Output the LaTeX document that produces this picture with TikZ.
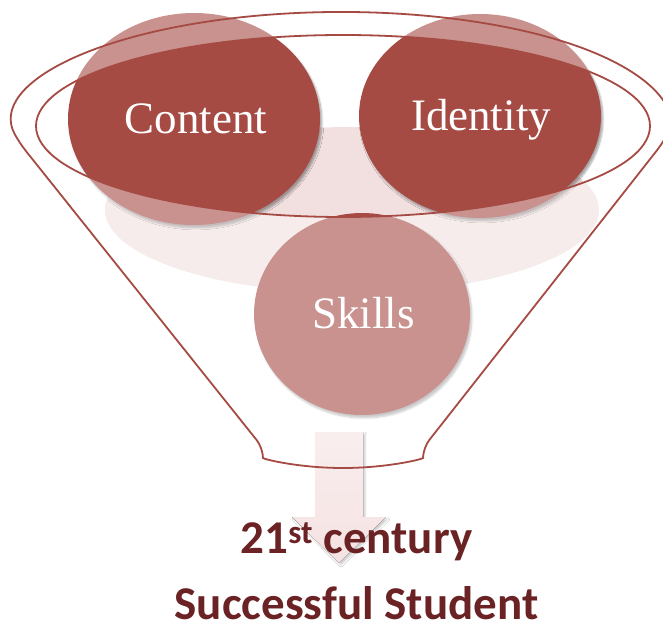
\documentclass[tikz,border=0pt]{standalone}
\usepackage{fontspec}
\setmainfont{Liberation Serif}
\newfontfamily\captionfont{Carlito}
\usetikzlibrary{shapes.geometric,shadows.blur}
\definecolor{funnelred}{HTML}{A64A44}
\definecolor{palepink}{HTML}{F2E0E0}
\definecolor{arrowpink}{HTML}{F5E2E2}
\definecolor{arrowtop}{HTML}{F9EEEE}
\definecolor{textred}{HTML}{6A2224}

\begin{document}
\begin{tikzpicture}[x=1pt, y=-1pt,
    blob/.style={ellipse, fill=funnelred, inner sep=0pt,
      blur shadow={shadow xshift=2pt, shadow yshift=-3pt, shadow opacity=35, shadow blur steps=6}},
    word/.style={anchor=base, inner sep=0pt, text=white, font=\fontsize{45}{54}\selectfont},
    rim/.style={draw=funnelred, line width=1.8pt},
    caption/.style={anchor=base, inner sep=0pt, text=textred, font=\captionfont\bfseries\fontsize{47}{56}\selectfont}]
    \useasboundingbox (0,0) rectangle (663,628);

    % bowl and the three ingredients
    \node[ellipse, fill=palepink, inner sep=0pt, minimum width=494pt, minimum height=166pt] (bowl) at (352,210) {};
    \node[blob, minimum width=252pt, minimum height=212pt] (content) at (194,119) {};
    \node[blob, minimum width=242pt, minimum height=204pt] (identity) at (480,116) {};
    \node[blob, minimum width=216pt, minimum height=202pt] (skills) at (362,314) {};

    % wash outside the mouth of the funnel
    \fill[white, opacity=0.4, even odd rule] (0,0) rectangle (663,628)
        (343,126) ellipse [x radius=307pt, y radius=91pt];

    % arrow out of the funnel
    \fill[top color=arrowtop, bottom color=arrowpink,
        blur shadow={shadow xshift=2pt, shadow yshift=-2pt, shadow opacity=20, shadow blur steps=5}]
        (315,432) -- (363,432) -- (363,517) -- (386,517) -- (339,563) -- (292,517) -- (315,517) -- cycle;

    % funnel outline
    \draw[rim, rounded corners=10pt] (19.5,143)
        arc[start angle=190.4, end angle=-10.4, x radius=327pt, y radius=111pt]
        -- (423,448) arc[start angle=0, end angle=-180, x radius=80pt, y radius=20pt] -- cycle;
    \draw[rim] (343,126) ellipse [x radius=307pt, y radius=91pt];

    % labels
    \node[word] (contentlabel) at (196,134) {Content};
    \node[word] (identitylabel) at (481,131) {Identity};
    \node[word] (skillslabel) at (363.5,328) {Skills};

    \node[caption] (century) at (356.5,553) {21\textsuperscript{st} century};
    \node[caption] (student) at (356.5,619) {Successful Student};
\end{tikzpicture}
\end{document}
